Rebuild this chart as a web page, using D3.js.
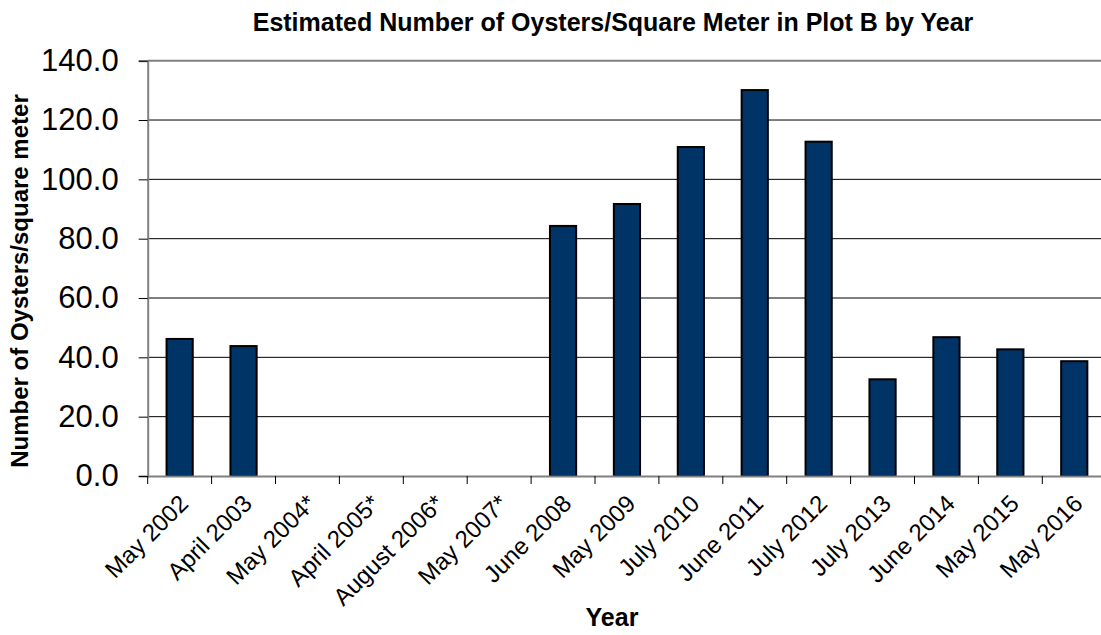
<!DOCTYPE html>
<html>
<head>
<meta charset="utf-8">
<script src="https://cdn.jsdelivr.net/npm/d3@7"></script>
<style>
  html, body { margin: 0; padding: 0; background: #fff; }
  svg { display: block; font-family: "Liberation Sans", Arial, sans-serif; }
</style>
</head>
<body>
<svg id="chart" width="1101" height="635"></svg>
<script>
// Survey dates (asterisk = no sample that year)
const categories = [
  "May 2002", "April 2003", "May 2004*", "April 2005*", "August 2006*",
  "May 2007*", "June 2008", "May 2009", "July 2010", "June 2011",
  "July 2012", "July 2013", "June 2014", "May 2015", "May 2016"
];
// Estimated oysters per square meter (null = not sampled)
const values = [
  46.2, 43.8, null, null, null,
  null, 84.3, 91.7, 110.9, 130.1,
  112.7, 32.6, 46.8, 42.7, 38.7
];
const yTicks = [0, 20, 40, 60, 80, 100, 120, 140];

const titleText = "Estimated Number of Oysters/Square Meter in Plot B by Year";
const xTitle = "Year";
const yTitle = "Number of Oysters/square meter";

const svg = d3.select("#chart");
const plot = { left: 147.7, right: 1106.2, top: 60.7, bottom: 476 };

const x = d3.scaleBand().domain(categories).range([plot.left, plot.right]).padding(0);
const y = d3.scaleLinear().domain([0, 140]).range([plot.bottom, plot.top]);

// horizontal gridlines
svg.append("g")
  .selectAll("line")
  .data(yTicks.filter(t => t > 0 && t < 140))
  .join("line")
  .attr("x1", plot.left).attr("x2", plot.right)
  .attr("y1", d => y(d)).attr("y2", d => y(d))
  .attr("stroke", "#000").attr("stroke-width", 1);

// top border of plot area
svg.append("line")
  .attr("x1", plot.left).attr("x2", plot.right)
  .attr("y1", y(140)).attr("y2", y(140))
  .attr("stroke", "#808080").attr("stroke-width", 2);

// bars
const barW = x.bandwidth() * 0.41;
svg.append("g")
  .selectAll("rect")
  .data(categories.map((c, i) => ({ c, v: values[i] })).filter(d => d.v != null))
  .join("rect")
  .attr("x", d => x(d.c) + (x.bandwidth() - barW) / 2)
  .attr("width", barW)
  .attr("y", d => y(d.v))
  .attr("height", d => y(0) - y(d.v))
  .attr("fill", "#003366")
  .attr("stroke", "#000")
  .attr("stroke-width", 2);

// y axis
const yAxis = svg.append("g")
  .attr("transform", `translate(${plot.left},0)`)
  .call(d3.axisLeft(y).tickValues(yTicks).tickFormat(d3.format(".1f")).tickSize(9).tickPadding(20));
yAxis.select(".domain").attr("stroke", "#808080").attr("stroke-width", 2);
yAxis.selectAll(".tick line").attr("stroke", "#000").attr("stroke-width", 1);
yAxis.selectAll(".tick text")
  .attr("font-size", 31)
  .attr("font-family", "Liberation Sans, Arial, sans-serif")
  .attr("fill", "#000");

// x axis
const xAxis = svg.append("g")
  .attr("transform", `translate(0,${plot.bottom})`)
  .call(d3.axisBottom(x).tickSize(0).tickFormat(""));
xAxis.select(".domain").attr("stroke", "#808080").attr("stroke-width", 2);

// category boundary ticks
svg.append("g")
  .selectAll("line")
  .data(categories)
  .join("line")
  .attr("x1", d => x(d)).attr("x2", d => x(d))
  .attr("y1", plot.bottom).attr("y2", plot.bottom + 8)
  .attr("stroke", "#000").attr("stroke-width", 1);

// rotated category labels
svg.append("g")
  .selectAll("text")
  .data(categories)
  .join("text")
  .attr("transform", d => `translate(${x(d) + x.bandwidth() / 2 + 10},${plot.bottom + 29}) rotate(-45)`)
  .attr("text-anchor", "end")
  .attr("font-size", 24)
  .attr("fill", "#000")
  .text(d => d);

// chart title
svg.append("text")
  .attr("x", 613).attr("y", 31)
  .attr("text-anchor", "middle")
  .attr("font-size", 25)
  .attr("font-weight", "bold")
  .text(titleText);

// axis titles
svg.append("text")
  .attr("x", 612).attr("y", 626)
  .attr("text-anchor", "middle")
  .attr("font-size", 25)
  .attr("font-weight", "bold")
  .text(xTitle);

svg.append("text")
  .attr("transform", `translate(28,281) rotate(-90)`)
  .attr("text-anchor", "middle")
  .attr("font-size", 24)
  .attr("font-weight", "bold")
  .text(yTitle);
</script>
</body>
</html>
